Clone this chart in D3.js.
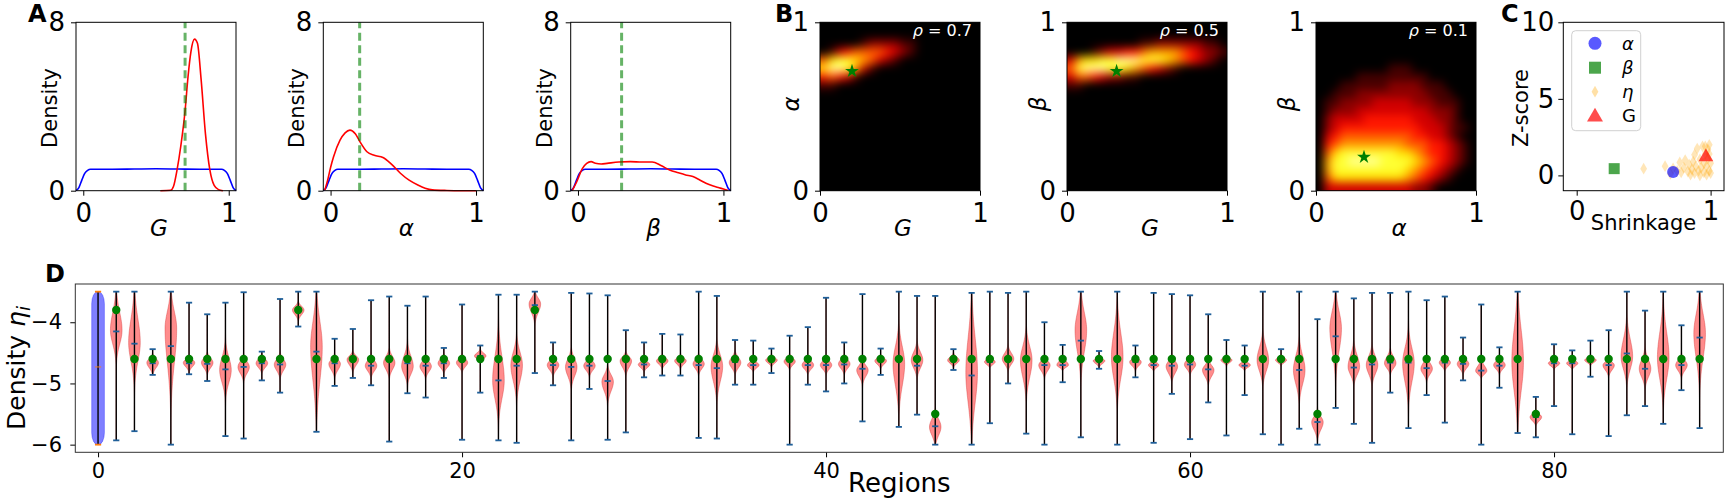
<!DOCTYPE html>
<html>
<head>
<meta charset="utf-8">
<script src="https://cdn.jsdelivr.net/npm/d3@7"></script>
<style>
  body { margin: 0; background: #fff; }
  svg text { font-family: "DejaVu Sans", sans-serif; }
</style>
</head>
<body>
<script>
// ---------- data ----------
// panel A: prior (uniform) and posterior densities, true values
var priorX = [-0.05, -0.03, -0.01, 0.01, 0.03, 0.05, 0.2, 0.35, 0.5, 0.65, 0.8, 0.95, 0.97, 0.99, 1.01, 1.03, 1.05];
var priorY = [0, 0.15, 0.5, 0.82, 0.97, 1.02, 1.02, 1.03, 1.04, 1.03, 1.02, 1.02, 0.97, 0.82, 0.5, 0.15, 0];
var postGX = [0.53, 0.6, 0.62, 0.645, 0.67, 0.70, 0.72, 0.74, 0.765, 0.785, 0.81, 0.84, 0.87, 0.9, 0.93, 0.96];
var postGY = [0, 0.02, 0.2, 1.0, 2.1, 3.8, 5.4, 6.6, 7.2, 7.0, 5.3, 2.7, 1.0, 0.25, 0.05, 0];
var postAX = [-0.04, -0.02, 0.0, 0.02, 0.065, 0.1, 0.133, 0.17, 0.2, 0.25, 0.3, 0.36, 0.42, 0.48, 0.54, 0.6, 0.65, 0.7, 0.8, 0.9, 1.0];
var postAY = [0.02, 0.5, 1.1, 1.6, 2.4, 2.75, 2.88, 2.7, 2.35, 1.85, 1.68, 1.58, 1.25, 0.83, 0.5, 0.27, 0.12, 0.04, 0.01, 0, 0];
var postBX = [-0.04, -0.01, 0.03, 0.06, 0.09, 0.12, 0.16, 0.2, 0.28, 0.36, 0.44, 0.51, 0.57, 0.63, 0.69, 0.74, 0.79, 0.84, 0.88, 0.93, 0.97, 1.0, 1.03];
var postBY = [0, 0.4, 1.05, 1.3, 1.38, 1.3, 1.27, 1.3, 1.36, 1.38, 1.36, 1.36, 1.2, 0.98, 0.85, 0.75, 0.67, 0.5, 0.35, 0.22, 0.14, 0.08, 0.02];
var trueParams = [0.7, 0.2, 0.3];
var paramNames = ["G", "α", "β"];

// panel B: joint posterior densities on a 20x20 grid (rows from top, level 0-9)
var heatGAlpha = [
  "00000000000000000000", "00000000000000000000", "00000122221100000000", "01345555432100000000",
  "57887653210000000000", "79986310000000000000", "45431000000000000000", "11000000000000000000",
  "00000000000000000000", "00000000000000000000", "00000000000000000000", "00000000000000000000",
  "00000000000000000000", "00000000000000000000", "00000000000000000000", "00000000000000000000",
  "00000000000000000000", "00000000000000000000", "00000000000000000000", "00000000000000000000"
];
var heatGBeta = [
  "00000000000000000000", "00000000000000000000", "00000000011222222110", "00012334456666543221",
  "36778899988876543210", "58999887654321000000", "35543221100000000000", "11000000000000000000",
  "00000000000000000000", "00000000000000000000", "00000000000000000000", "00000000000000000000",
  "00000000000000000000", "00000000000000000000", "00000000000000000000", "00000000000000000000",
  "00000000000000000000", "00000000000000000000", "00000000000000000000", "00000000000000000000"
];
var heatAlphaBeta = [
  "00000000000000000000", "00000000000000000000", "00000000000000000000", "00000000000000000000",
  "00000000000000000000", "00000000011100000000", "00000111111111000000", "00011111122221110000",
  "00111222222222111000", "01122223333322211100", "01222333333333222100", "02333344444433322100",
  "02344444444443332110", "03455555555544332100", "04566666666555443210", "05788888887765443210",
  "06889999888876543210", "06888888888765432100", "05777777777654321000", "03333333333322100000"
];
var heatGrids = [heatGAlpha, heatGBeta, heatAlphaBeta];
var heatStars = [[0.2, 0.71], [0.31, 0.71], [0.3, 0.2]];
var heatRho = ["0.7", "0.5", "0.1"];
var heatXNames = ["G", "G", "α"];
var heatYNames = ["α", "β", "β"];

// panel C: shrinkage vs z-score
var shrinkEta = [0.50, 0.66, 0.70, 0.72, 0.75, 0.77, 0.78, 0.80, 0.81, 0.83, 0.84, 0.85, 0.86, 0.87, 0.88, 0.88, 0.89, 0.90,
                 0.91, 0.92, 0.92, 0.93, 0.94, 0.95, 0.95, 0.96, 0.97, 0.97, 0.98, 0.98, 0.99, 0.99, 1.00, 1.00, 0.99, 0.96];
var zEta = [0.44, 0.60, 0.10, 0.45, 0.30, 0.85, 0.20, 0.50, 1.00, 0.25, 0.70, 0.05, 0.40, 0.90, 1.35, 0.15, 0.60, 1.75,
            0.30, 1.05, 0.00, 0.50, 1.90, 0.80, 0.20, 1.40, 0.60, 0.05, 1.10, 1.70, 0.30, 2.00, 0.80, 0.15, 1.40, 1.90];
var shrinkAlpha = 0.72, zAlpha = 0.22;
var shrinkBeta = 0.28, zBeta = 0.44;
var shrinkG = 0.965, zG = 1.2;

// panel D: posterior of eta_i per region (region 0 = prior)
var vMin = [-6.0, -5.93, -5.78, -4.86, -6.0, -4.85, -4.96, -5.86, -5.9, -4.95,
  -5.15, -4.07, -5.79, -5.04, -4.91, -5.03, -5.95, -5.16, -5.23, -4.91,
  -5.92, -5.15, -5.93, -5.97, -4.83, -5.03, -5.93, -5.09, -5.92, -5.8,
  -4.9, -4.87, -4.87, -5.89, -5.9, -5.02, -5.02, -4.83, -6.0, -5.02,
  -5.13, -5.0, -5.62, -4.86, -5.71, -5.51, -6.0, -4.78, -6.0, -5.65,
  -5.0, -5.82, -6.0, -4.98, -5.88, -4.76, -6.0, -4.9, -5.97, -5.17,
  -5.91, -5.31, -5.85, -5.19, -5.83, -6.0, -5.74, -6.0, -5.4, -5.66,
  -5.97, -5.15, -5.73, -5.19, -5.64, -4.95, -6.0, -5.07, -5.81, -5.88,
  -5.37, -5.83, -4.89, -5.86, -5.52, -5.37, -5.66, -5.11, -5.73];
var vMax = [-3.5, -3.5, -3.5, -4.44, -3.5, -3.68, -3.87, -3.68, -3.51, -4.48,
  -3.62, -3.5, -3.5, -4.27, -4.11, -3.64, -3.58, -3.73, -3.58, -4.42,
  -3.71, -4.38, -3.55, -3.55, -3.5, -4.33, -3.52, -3.53, -3.56, -4.13,
  -4.33, -4.19, -4.2, -3.5, -3.57, -4.29, -4.3, -4.43, -4.22, -4.08,
  -3.6, -4.33, -3.54, -4.43, -3.5, -3.57, -3.57, -4.44, -3.52, -3.5,
  -3.52, -3.5, -4.0, -4.37, -3.5, -4.47, -3.5, -4.38, -3.52, -3.54,
  -3.56, -3.87, -4.29, -4.38, -3.5, -4.44, -3.5, -3.95, -3.5, -3.61,
  -3.52, -3.52, -3.5, -3.64, -3.58, -4.25, -3.71, -4.41, -3.5, -5.22,
  -4.36, -4.46, -4.3, -4.13, -3.5, -3.81, -3.5, -4.05, -3.5];
var vMed = [-4.73, -4.15, -4.35, -4.67, -4.39, -4.67, -4.68, -4.77, -4.73, -4.67,
  -4.69, -3.8, -4.48, -4.67, -4.61, -4.71, -4.62, -4.67, -4.71, -4.67,
  -4.62, -4.55, -4.95, -4.71, -3.72, -4.7, -4.73, -4.71, -4.96, -4.62,
  -4.69, -4.61, -4.61, -4.7, -4.75, -4.65, -4.7, -4.61, -4.62, -4.7,
  -4.7, -4.69, -4.76, -4.61, -4.61, -4.71, -5.7, -4.6, -4.87, -4.65,
  -4.59, -4.62, -4.7, -4.7, -4.3, -4.63, -4.6, -4.65, -4.7, -4.71,
  -4.69, -4.77, -4.61, -4.71, -4.61, -4.61, -4.78, -5.63, -4.23, -4.74,
  -4.69, -4.66, -4.66, -4.75, -4.66, -4.68, -4.79, -4.71, -4.61, -5.55,
  -4.67, -4.67, -4.61, -4.7, -4.51, -4.76, -4.61, -4.7, -4.25];
var vPeak = [-4.75, -4.13, -4.33, -4.66, -4.1, -4.66, -4.66, -4.78, -4.73, -4.67,
  -4.69, -3.8, -4.4, -4.68, -4.61, -4.71, -4.66, -4.72, -4.72, -4.67,
  -4.66, -4.55, -4.95, -4.7, -3.7, -4.7, -4.73, -4.71, -4.97, -4.63,
  -4.69, -4.63, -4.63, -4.68, -4.72, -4.66, -4.7, -4.62, -4.64, -4.7,
  -4.7, -4.68, -4.78, -4.63, -4.68, -4.62, -5.71, -4.62, -4.82, -4.65,
  -4.6, -4.62, -4.7, -4.7, -4.13, -4.63, -4.57, -4.65, -4.7, -4.72,
  -4.69, -4.78, -4.62, -4.7, -4.62, -4.62, -4.78, -5.63, -4.1, -4.73,
  -4.7, -4.67, -4.67, -4.76, -4.66, -4.68, -4.8, -4.7, -4.64, -5.55,
  -4.67, -4.67, -4.62, -4.7, -4.56, -4.76, -4.58, -4.7, -4.18];
var vLo = [-6.0, -4.62, -5.0, -4.84, -5.33, -4.8, -4.84, -5.22, -4.95, -4.82,
  -4.9, -3.96, -5.6, -4.89, -4.8, -4.89, -4.89, -5.0, -4.9, -4.82,
  -4.8, -4.65, -5.6, -5.25, -4.0, -4.87, -5.05, -4.87, -5.3, -4.85,
  -4.8, -4.75, -4.75, -4.84, -5.25, -4.84, -4.8, -4.72, -4.76, -4.84,
  -4.84, -4.84, -5.0, -4.75, -5.44, -4.89, -6.0, -4.73, -5.9, -4.73,
  -4.78, -5.22, -4.89, -4.78, -4.89, -4.73, -5.33, -4.78, -4.78, -4.95,
  -4.84, -5.0, -4.7, -4.78, -5.0, -4.7, -5.27, -5.9, -4.89, -5.0,
  -5.0, -4.84, -5.33, -4.95, -4.78, -4.84, -4.9, -4.84, -5.7, -5.68,
  -4.76, -4.76, -4.7, -4.87, -5.0, -5.05, -5.33, -4.89, -5.05];
var vHi = [-3.5, -3.5, -3.5, -4.52, -3.5, -4.55, -4.5, -4.34, -4.54, -4.52,
  -4.51, -3.67, -3.5, -4.53, -4.48, -4.53, -4.45, -4.36, -4.55, -4.52,
  -4.53, -4.45, -4.1, -4.25, -3.5, -4.55, -4.45, -4.56, -4.73, -4.49,
  -4.6, -4.53, -4.53, -4.53, -4.32, -4.48, -4.6, -4.53, -4.53, -4.56,
  -4.56, -4.53, -4.62, -4.53, -4.07, -4.34, -5.44, -4.51, -3.58, -4.56,
  -4.4, -4.13, -4.56, -4.56, -3.5, -4.56, -3.69, -4.54, -4.62, -4.54,
  -4.54, -4.62, -4.54, -4.62, -4.18, -4.54, -4.29, -5.44, -3.5, -4.34,
  -4.4, -4.45, -4.13, -4.56, -4.54, -4.54, -4.62, -4.56, -3.5, -5.44,
  -4.59, -4.59, -4.54, -4.59, -3.96, -4.45, -3.69, -4.53, -3.5];
var vTrue = [null, -3.8, -4.6, -4.6, -4.6, -4.6, -4.6, -4.6, -4.6, -4.6,
  -4.6, -3.8, -4.6, -4.6, -4.6, -4.6, -4.6, -4.6, -4.6, -4.6,
  -4.6, -4.6, -4.6, -4.6, -3.8, -4.6, -4.6, -4.6, -4.6, -4.6,
  -4.6, -4.6, -4.6, -4.6, -4.6, -4.6, -4.6, -4.6, -4.6, -4.6,
  -4.6, -4.6, -4.6, -4.6, -4.6, -4.6, -5.5, -4.6, -4.6, -4.6,
  -4.6, -4.6, -4.6, -4.6, -4.6, -4.6, -4.6, -4.6, -4.6, -4.6,
  -4.6, -4.6, -4.6, -4.6, -4.6, -4.6, -4.6, -5.5, -4.6, -4.6,
  -4.6, -4.6, -4.6, -4.6, -4.6, -4.6, -4.6, -4.6, -4.6, -5.5,
  -4.6, -4.6, -4.6, -4.6, -4.6, -4.6, -4.6, -4.6, -4.6];

// ---------- setup ----------
var svgWidth = 1725, svgHeight = 498;
var svg = d3.select("body").append("svg")
  .attr("width", svgWidth)
  .attr("height", svgHeight);
svg.append("rect").attr("width", svgWidth).attr("height", svgHeight).attr("fill", "#fff");
var defs = svg.append("defs");

var topY = 22.3, botY = 190.7, boxW = 160;

function styleAxis(sel, size) {
  sel.attr("font-family", "DejaVu Sans").attr("font-size", size);
  sel.select(".domain").remove();
  sel.selectAll(".tick line").attr("stroke", "#000").attr("stroke-width", 1);
  sel.selectAll(".tick text").attr("fill", "#000");
}

function drawFrame(g, x, y, o) {
  g.append("g")
    .attr("transform", `translate(0,${y.range()[0]})`)
    .call(d3.axisBottom(x).tickValues(o.xt).tickSize(5).tickPadding(o.xpad).tickFormat(d3.format("d")))
    .call(styleAxis, o.fs);
  g.append("g")
    .attr("transform", `translate(${x.range()[0]},0)`)
    .call(d3.axisLeft(y).tickValues(o.yt).tickSize(5).tickPadding(o.ypad).tickFormat(d3.format("d")))
    .call(styleAxis, o.fs);
  g.append("rect")
    .attr("x", x.range()[0]).attr("y", y.range()[1])
    .attr("width", x.range()[1] - x.range()[0])
    .attr("height", y.range()[0] - y.range()[1])
    .attr("fill", "none").attr("stroke", o.stroke || "#000").attr("stroke-width", 1);
}

function panelLetter(txt, x, y) {
  svg.append("text").attr("x", x).attr("y", y)
    .attr("font-size", 24).attr("font-weight", "bold").text(txt);
}

function yLabel(x, y, size) {
  return svg.append("text")
    .attr("transform", `translate(${x},${y}) rotate(-90)`)
    .attr("text-anchor", "middle").attr("font-size", size);
}

// ---------- panel A ----------
var aLeft = [76, 323.3, 570.7];
var aPost = [[postGX, postGY], [postAX, postAY], [postBX, postBY]];

aLeft.forEach(function(l, k) {
  var x = d3.scaleLinear().domain([-0.05, 1.05]).range([l, l + boxW]);
  var y = d3.scaleLinear().domain([0, 8]).range([botY, topY]);
  var g = svg.append("g");
  var line = d3.line().x(d => x(d[0])).y(d => y(d[1])).curve(d3.curveMonotoneX);

  g.append("path").datum(d3.zip(priorX, priorY))
    .attr("d", line).attr("fill", "none").attr("stroke", "#0000ff").attr("stroke-width", 1.6);
  g.append("path").datum(d3.zip(aPost[k][0], aPost[k][1]))
    .attr("d", line).attr("fill", "none").attr("stroke", "#ff0000").attr("stroke-width", 1.6);
  g.append("line")
    .attr("x1", x(trueParams[k])).attr("x2", x(trueParams[k]))
    .attr("y1", y(0)).attr("y2", y(8))
    .attr("stroke", "green").attr("stroke-opacity", 0.6)
    .attr("stroke-width", 3).attr("stroke-dasharray", "8,4.5");

  drawFrame(g, x, y, {xt: [0, 1], yt: [0, 8], fs: 26, xpad: 7.8, ypad: 6});

  yLabel(l - 19, 108, 21).text("Density");
  svg.append("text").attr("x", l + boxW / 2 + 3).attr("y", 236)
    .attr("text-anchor", "middle").attr("font-size", 23).attr("font-style", "italic")
    .text(paramNames[k]);
});
panelLetter("A", 28, 22);

// ---------- panel B ----------
function hot(t) {
  var r = Math.min(1, t / 0.365);
  var gg = Math.max(0, Math.min(1, (t - 0.365) / 0.385));
  var b = Math.max(0, Math.min(1, (t - 0.75) / 0.25));
  return d3.rgb(r * 255, gg * 255, b * 255) + "";
}
var heatColor = d3.scaleSequential(hot).domain([0, 10]);

defs.append("filter").attr("id", "smooth")
  .attr("x", "-10%").attr("y", "-10%").attr("width", "120%").attr("height", "120%")
  .attr("color-interpolation-filters", "sRGB")
  .append("feGaussianBlur").attr("stdDeviation", 5);

var hLeft = [820, 1067, 1316];
hLeft.forEach(function(l, k) {
  var x = d3.scaleLinear().domain([0, 1]).range([l, l + boxW]);
  var y = d3.scaleLinear().domain([0, 1]).range([botY, topY]);
  var g = svg.append("g");

  defs.append("clipPath").attr("id", "clipH" + k)
    .append("rect").attr("x", l).attr("y", topY).attr("width", boxW).attr("height", botY - topY);

  var cells = [];
  heatGrids[k].forEach(function(row, r) {
    row.split("").forEach(function(ch, c) {
      cells.push({r: r, c: c, v: +ch});
    });
  });
  var n = 20, ext = 16;
  var hg = g.append("g").attr("clip-path", `url(#clipH${k})`);
  hg.append("rect").attr("x", l).attr("y", topY).attr("width", boxW).attr("height", botY - topY).attr("fill", "#000");
  hg.append("g").attr("filter", "url(#smooth)")
    .selectAll("rect").data(cells).enter().append("rect")
    .attr("x", d => x(d.c / n) - (d.c === 0 ? ext : 0))
    .attr("y", d => y(1 - d.r / n) - (d.r === 0 ? ext : 0))
    .attr("width", d => x((d.c + 1) / n) - x(d.c / n) + 0.6 + (d.c === 0 || d.c === n - 1 ? ext : 0))
    .attr("height", d => y(1 - (d.r + 1) / n) - y(1 - d.r / n) + 0.6 + (d.r === 0 || d.r === n - 1 ? ext : 0))
    .attr("fill", d => heatColor(d.v));

  g.append("path")
    .attr("d", d3.symbol().type(d3.symbolStar).size(60)())
    .attr("transform", `translate(${x(heatStars[k][0])},${y(heatStars[k][1])})`)
    .attr("fill", "green");

  var rho = g.append("text").attr("x", l + boxW - 8).attr("y", 36)
    .attr("text-anchor", "end").attr("font-size", 16).attr("fill", "#fff");
  rho.append("tspan").attr("font-style", "italic").text("ρ");
  rho.append("tspan").text(" = " + heatRho[k]);

  drawFrame(g, x, y, {xt: [0, 1], yt: [0, 1], fs: 26, xpad: 7.8, ypad: 6});

  yLabel(l - 21, 104, 23).attr("font-style", "italic").text(heatYNames[k]);
  svg.append("text").attr("x", l + boxW / 2 + 3).attr("y", 236)
    .attr("text-anchor", "middle").attr("font-size", 23).attr("font-style", "italic")
    .text(heatXNames[k]);
});
panelLetter("B", 775, 22);

// ---------- panel C ----------
(function() {
  var x = d3.scaleLinear().domain([-0.1, 1.1]).range([1563.3, 1724]);
  var y = d3.scaleLinear().domain([-1, 10]).range([botY, topY]);
  var g = svg.append("g");
  var diamond = d3.symbol().type(d3.symbolDiamond).size(40)();

  g.selectAll(".eta").data(d3.zip(shrinkEta, zEta)).enter().append("path")
    .attr("class", "eta").attr("d", diamond)
    .attr("transform", d => `translate(${x(d[0])},${y(d[1])})`)
    .attr("fill", "#ffa500").attr("fill-opacity", 0.28);
  g.append("path").attr("d", d3.symbol().type(d3.symbolSquare).size(121)())
    .attr("transform", `translate(${x(shrinkBeta)},${y(zBeta)})`)
    .attr("fill", "green").attr("fill-opacity", 0.7);
  g.append("circle").attr("cx", x(shrinkAlpha)).attr("cy", y(zAlpha)).attr("r", 6)
    .attr("fill", "#0000ff").attr("fill-opacity", 0.65);
  g.append("path").attr("d", d3.symbol().type(d3.symbolTriangle).size(95)())
    .attr("transform", `translate(${x(shrinkG)},${y(zG)})`)
    .attr("fill", "#ff0000").attr("fill-opacity", 0.7);

  drawFrame(g, x, y, {xt: [0, 1], yt: [0, 5, 10], fs: 26, xpad: 5.8, ypad: 4});

  // legend
  var lg = g.append("g");
  lg.append("rect").attr("x", 1571.7).attr("y", 30.7).attr("width", 69).attr("height", 100)
    .attr("rx", 4).attr("fill", "#fff").attr("fill-opacity", 0.8)
    .attr("stroke", "#d0d0d0").attr("stroke-width", 1);
  var rows = [43.3, 67.7, 91.7, 116];
  lg.append("circle").attr("cx", 1595).attr("cy", rows[0]).attr("r", 6.5)
    .attr("fill", "#0000ff").attr("fill-opacity", 0.65);
  lg.append("path").attr("d", d3.symbol().type(d3.symbolSquare).size(144)())
    .attr("transform", `translate(1595,${rows[1]})`).attr("fill", "green").attr("fill-opacity", 0.7);
  lg.append("path").attr("d", diamond)
    .attr("transform", `translate(1595,${rows[2]})`).attr("fill", "#ffa500").attr("fill-opacity", 0.35);
  lg.append("path").attr("d", d3.symbol().type(d3.symbolTriangle).size(110)())
    .attr("transform", `translate(1595,${rows[3] + 1})`).attr("fill", "#ff0000").attr("fill-opacity", 0.7);
  var legNames = ["α", "β", "η", "G"];
  legNames.forEach(function(t, i) {
    lg.append("text").attr("x", 1622).attr("y", rows[i]).attr("dy", "0.35em")
      .attr("font-size", 18).attr("font-style", i < 3 ? "italic" : "normal").text(t);
  });

  yLabel(1528, 108, 21).text("Z-score");
  svg.append("text").attr("x", 1643.5).attr("y", 230)
    .attr("text-anchor", "middle").attr("font-size", 21).text("Shrinkage");
})();
panelLetter("C", 1501, 22);

// ---------- panel D ----------
(function() {
  var x = d3.scaleLinear().domain([-1.25, 89.3]).range([75.3, 1723.3]);
  var y = d3.scaleLinear().domain([-6.125, -3.375]).range([452.3, 284]);
  var g = svg.append("g");
  var halfW = 0.32, capW = 0.17;

  function profile(v, i) {
    var pk = vPeak[i];
    var s = v >= pk ? (vHi[i] - pk) : (pk - vLo[i]);
    s = Math.max(Math.abs(s), 0.03);
    var t = (v - pk) / s;
    return Math.exp(-2.4 * t * t);
  }
  var area = d3.area()
    .y(d => y(d.v))
    .x0(d => x(d.i - halfW * d.w))
    .x1(d => x(d.i + halfW * d.w))
    .curve(d3.curveBasis);

  var regions = d3.range(vMin.length);

  // prior for region 0
  g.append("rect")
    .attr("x", x(-0.35)).attr("width", x(0.35) - x(-0.35))
    .attr("y", y(vMax[0])).attr("height", y(vMin[0]) - y(vMax[0]))
    .attr("rx", 6).attr("ry", 12)
    .attr("fill", "#0000ff").attr("fill-opacity", 0.5)
    .attr("stroke", "#0000ff").attr("stroke-opacity", 0.3);

  // posterior violins
  g.selectAll(".violin").data(regions.slice(1)).enter().append("path")
    .attr("class", "violin")
    .attr("d", function(i) {
      var pts = [];
      var steps = 80;
      for (var s = 0; s <= steps; s++) {
        var v = vMin[i] + (vMax[i] - vMin[i]) * s / steps;
        pts.push({i: i, v: v, w: profile(v, i)});
      }
      return area(pts);
    })
    .attr("fill", "#ff0000").attr("fill-opacity", 0.45)
    .attr("stroke", "#d02020").attr("stroke-opacity", 0.45).attr("stroke-width", 0.8);

  // extrema bars
  g.selectAll(".bar").data(regions).enter().append("line")
    .attr("x1", i => x(i)).attr("x2", i => x(i))
    .attr("y1", i => y(vMin[i])).attr("y2", i => y(vMax[i]))
    .attr("stroke", "#000").attr("stroke-width", 1.4);

  var caps = [];
  regions.forEach(function(i) {
    caps.push({i: i, v: vMin[i], m: false});
    caps.push({i: i, v: vMax[i], m: false});
    caps.push({i: i, v: vMed[i], m: true});
  });
  g.selectAll(".cap").data(caps).enter().append("line")
    .attr("x1", d => x(d.i - capW)).attr("x2", d => x(d.i + capW))
    .attr("y1", d => y(d.v)).attr("y2", d => y(d.v))
    .attr("stroke", d => d.i === 0 ? "#ff7f0e" : "#1f5f99")
    .attr("stroke-opacity", d => d.i === 0 && d.m ? 0.5 : 1)
    .attr("stroke-width", 1.8);

  // true values
  g.selectAll(".truth").data(regions.filter(i => vTrue[i] !== null)).enter().append("circle")
    .attr("cx", i => x(i)).attr("cy", i => y(vTrue[i])).attr("r", 4.2)
    .attr("fill", "green");

  drawFrame(g, x, y, {xt: [0, 20, 40, 60, 80], yt: [-4, -5, -6], fs: 21, xpad: 5.8, ypad: 8.3, stroke: "#333"});

  var yl = yLabel(25, 368, 25);
  yl.append("tspan").text("Density ");
  yl.append("tspan").attr("font-style", "italic").text("η");
  yl.append("tspan").attr("font-style", "italic").attr("font-size", 18).attr("dy", "0.3em").text("i");

  svg.append("text").attr("x", 899.3).attr("y", 492)
    .attr("text-anchor", "middle").attr("font-size", 26).text("Regions");
})();
panelLetter("D", 45, 282);
</script>
</body>
</html>
